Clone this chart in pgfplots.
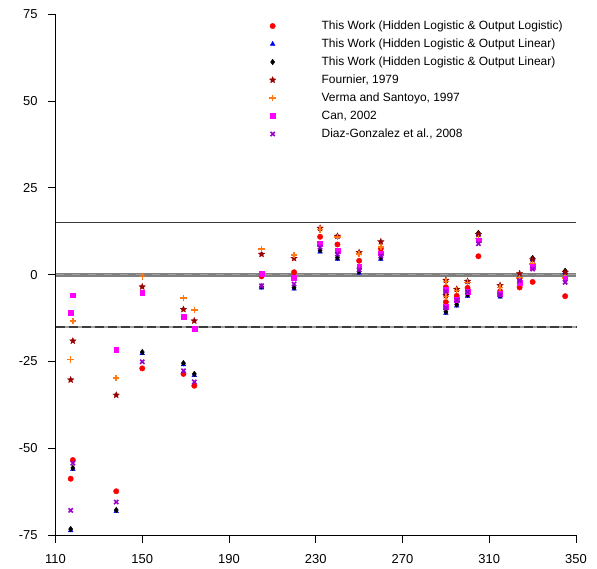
\documentclass[border=0pt]{standalone}
\usepackage{fontspec}
\setmainfont{Liberation Sans}
\usepackage{pgfplots}
\pgfplotsset{compat=1.18}

\definecolor{cRed}{RGB}{255,0,0}
\definecolor{cBlue}{RGB}{0,0,255}
\definecolor{cStar}{RGB}{153,0,0}
\definecolor{cOrange}{RGB}{255,120,20}
\definecolor{cMag}{RGB}{255,0,255}
\definecolor{cPurple}{RGB}{153,0,204}
\definecolor{lineDark}{RGB}{60,60,60}
\definecolor{lineGray}{RGB}{128,128,128}
\definecolor{lineLight}{RGB}{160,160,160}

% filled five-pointed star
\pgfdeclareplotmark{fstar}{%
  \pgfpathmoveto{\pgfpointpolar{90}{\pgfplotmarksize}}%
  \pgfpathlineto{\pgfpointpolar{126}{0.45\pgfplotmarksize}}%
  \pgfpathlineto{\pgfpointpolar{162}{\pgfplotmarksize}}%
  \pgfpathlineto{\pgfpointpolar{198}{0.45\pgfplotmarksize}}%
  \pgfpathlineto{\pgfpointpolar{234}{\pgfplotmarksize}}%
  \pgfpathlineto{\pgfpointpolar{270}{0.45\pgfplotmarksize}}%
  \pgfpathlineto{\pgfpointpolar{306}{\pgfplotmarksize}}%
  \pgfpathlineto{\pgfpointpolar{342}{0.45\pgfplotmarksize}}%
  \pgfpathlineto{\pgfpointpolar{18}{\pgfplotmarksize}}%
  \pgfpathlineto{\pgfpointpolar{54}{0.45\pgfplotmarksize}}%
  \pgfpathclose
  \pgfusepathqfillstroke}

\begin{document}
\begin{tikzpicture}
\begin{axis}[
  scale only axis, width=520.5bp, height=520.7bp,
  xmin=110, xmax=350, ymin=-75, ymax=75,
  xtick={110,150,...,350}, ytick={-75,-50,...,75},
  axis x line*=bottom, axis y line*=left,
  axis line style={-, line width=0.9bp},
  tick align=outside, major tick length=7.5bp,
  tick style={line width=0.9bp, black},
  every tick label/.append style={font=\fontsize{13}{15}\selectfont},
  /pgf/number format/assume math mode=true,
  yticklabel style={xshift=-7bp},
  xticklabel style={yshift=-8bp},
  clip=false,
  legend cell align=left,
  legend style={draw=none, fill=none, inner sep=0pt, outer sep=0pt,
    at={(0.398,0.989)}, anchor=north west,
    font=\fontsize{12}{14}\selectfont, row sep=6bp, column sep=0bp,
    nodes={inner xsep=2bp, inner ysep=0bp, text height=9bp, text depth=3bp}},
  legend image code/.code={\path[draw=none, fill=none] (0bp,-3bp) rectangle (57bp,3bp); \draw[#1] plot coordinates {(10bp,0bp)};},
]
% reference lines
\addplot[forget plot, line width=1bp, color=lineDark] coordinates {(110,15) (350,15)};
\addplot[forget plot, line width=4bp, color=lineGray] coordinates {(110,0) (350,0)};
\addplot[forget plot, line width=1.2bp, color=lineLight, dash pattern=on 8bp off 8bp] coordinates {(110,0) (350,0)};
\addplot[forget plot, line width=1.6bp, color=lineLight] coordinates {(110,-15) (350,-15)};
\addplot[forget plot, line width=1.6bp, color=lineDark, dash pattern=on 9bp off 4bp] coordinates {(110,-15) (350,-15)};

% This Work (Hidden Logistic & Output Logistic)
\addplot[only marks, mark=*, mark size=2.7bp, color=cRed] coordinates {
(117,-58.8) (118,-53.4) (138,-62.4) (150,-27.0) (169,-28.6) (174,-32.0)
(205,-0.5) (220,0.7) (232,10.9) (240,8.7) (250,4.0) (260,7.5)
(290,-3.6) (290,-7.9) (295,-6.1) (300,-3.8) (305,5.3) (315,-4.8)
(324,-3.7) (330,-2.1) (345,-6.2)};
\addlegendentry{This Work (Hidden Logistic \& Output Logistic)}

% This Work (Hidden Logistic & Output Linear), triangles
\addplot[only marks, mark=triangle*, mark size=2.7bp, color=cBlue] coordinates {
(117,-73.7) (118,-56.1) (138,-68.2) (150,-22.7) (169,-25.9) (174,-29.0)
(205,-3.8) (220,-4.1) (232,6.6) (240,4.5) (250,0.5) (260,4.5)
(290,-5.9) (290,-11.1) (295,-9.0) (300,-6.2) (305,11.6) (315,-6.4)
(324,-1.9) (330,4.4) (345,0.7)};
\addlegendentry{This Work (Hidden Logistic \& Output Linear)}

% This Work (Hidden Logistic & Output Linear), diamonds
\addplot[only marks, mark=diamond*, mark size=2.8bp, color=black] coordinates {
(117,-73.3) (118,-55.7) (138,-67.8) (150,-22.3) (169,-25.5) (174,-28.6)
(205,-3.4) (220,-3.7) (232,7.0) (240,4.9) (250,0.9) (260,4.9)
(290,-5.5) (290,-10.7) (295,-8.6) (300,-5.8) (305,12.0) (315,-6.0)
(324,-1.5) (330,4.8) (345,1.1)};
\addlegendentry{This Work (Hidden Logistic \& Output Linear)}

% Fournier, 1979
\addplot[only marks, mark=fstar, mark size=3.4bp, color=cStar, fill=cStar, line width=0.3bp] coordinates {
(117,-30.3) (118,-19.1) (138,-34.7) (150,-3.5) (169,-10.0) (174,-13.3)
(205,5.9) (220,4.7) (232,13.4) (240,11.1) (250,6.4) (260,9.5)
(290,-1.6) (290,-6.0) (295,-4.2) (300,-1.9) (305,11.6) (315,-3.1)
(324,0.3) (330,4.3) (345,0.7)};
\addlegendentry{Fournier, 1979}

% Verma and Santoyo, 1997
\addplot[only marks, mark=+, mark size=3.2bp, line width=1.5bp, color=cOrange] coordinates {
(117,-24.4) (118,-13.3) (138,-29.8) (150,-0.5) (169,-6.7) (174,-10.2)
(205,7.4) (220,5.6) (232,13.0) (240,10.8) (250,6.0) (260,8.0)
(290,-2.0) (290,-6.3) (295,-4.5) (300,-2.2) (305,10.4) (315,-3.7)
(324,-1.0) (330,3.1) (345,-1.0)};
\addlegendentry{Verma and Santoyo, 1997}

% Can, 2002
\addplot[only marks, mark=square*, mark size=2.4bp, color=cMag] coordinates {
(117,-10.9) (118,-5.9) (138,-21.6) (150,-5.2) (169,-12.2) (174,-15.5)
(205,0.3) (220,-0.8) (232,8.8) (240,7.0) (250,2.2) (260,6.2)
(290,-4.3) (290,-9.3) (295,-7.2) (300,-4.8) (305,9.9) (315,-5.6)
(324,-2.4) (330,2.4) (345,-1.0)};
\addlegendentry{Can, 2002}

% Diaz-Gonzalez et al., 2008
\addplot[only marks, mark=x, mark size=3bp, line width=1.6bp, color=cPurple] coordinates {
(117,-67.9) (118,-54.3) (138,-65.5) (150,-25.1) (169,-27.7) (174,-30.9)
(205,-3.2) (220,-2.7) (232,7.9) (240,5.9) (250,1.4) (260,5.4)
(290,-4.9) (290,-9.6) (295,-7.4) (300,-5.0) (305,8.9) (315,-5.8)
(324,-1.7) (330,1.6) (345,-2.2)};
\addlegendentry{Diaz-Gonzalez et al., 2008}

\coordinate (bl) at (rel axis cs:0,0);
\coordinate (tr) at (rel axis cs:1,1);
\end{axis}
\pgfresetboundingbox
\path[use as bounding box] ([xshift=-55.5bp,yshift=-34bp]bl) rectangle ([xshift=21bp,yshift=14.3bp]tr);
\end{tikzpicture}
\end{document}
